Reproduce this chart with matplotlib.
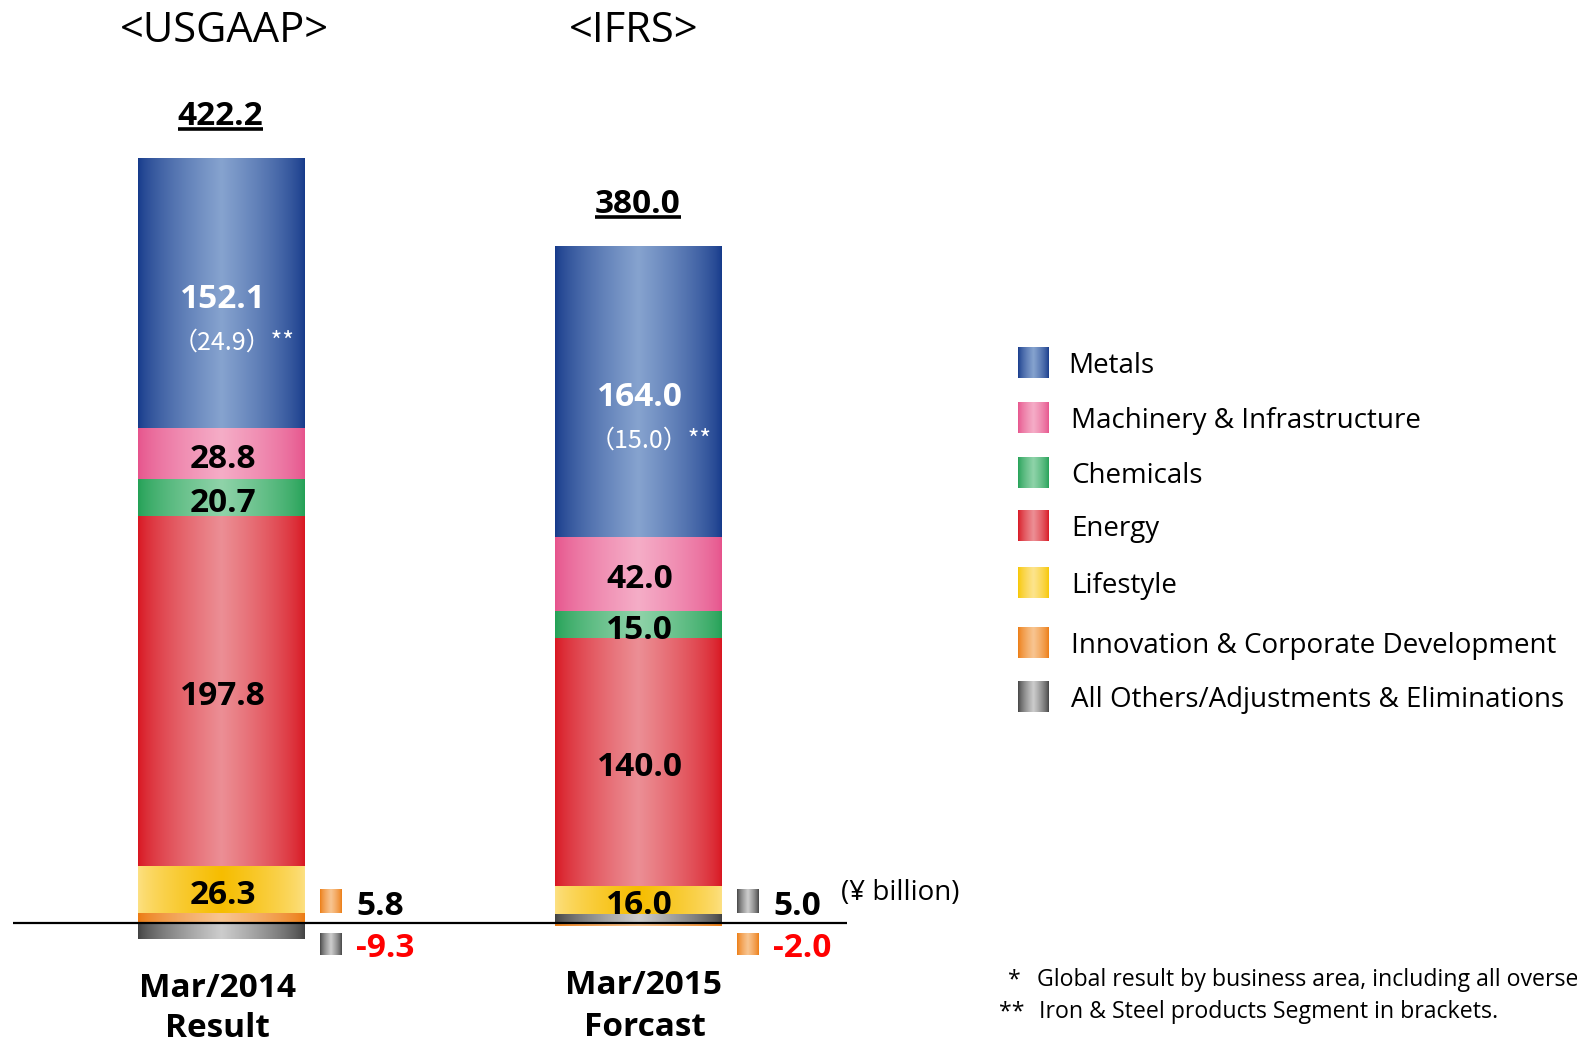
import numpy as np
import matplotlib
matplotlib.use('Agg')
import matplotlib.pyplot as plt
import matplotlib.colors as mcolors

plt.rcParams['font.family'] = ['Open Sans', 'DejaVu Sans']

# profit by segment (¥ billion)
segments = ['Metals', 'Machinery & Infrastructure', 'Chemicals', 'Energy', 'Lifestyle',
            'Innovation & Corporate Development', 'All Others/Adjustments & Eliminations']
values_2014 = [152.1, 28.8, 20.7, 197.8, 26.3, 5.8, -9.3]
values_2015 = [164.0, 42.0, 15.0, 140.0, 16.0, -2.0, 5.0]
steel_2014 = 24.9
steel_2015 = 15.0
periods = ['Mar/2014', 'Mar/2015']
period_notes = ['Result', 'Forcast']
standards = ['<USGAAP>', '<IFRS>']
unit_label = '(¥ billion)'
# first note is cut at the right edge in the source slide
footnotes = ['Global result by business area, including all overse',
             'Iron & Steel products Segment in brackets.']

# stacking bottom-up, inside-bar labels, small side labels
stack_order = [5, 6, 4, 3, 2, 1, 0]
inside = [0, 1, 2, 3, 4]
side = [5, 6]

# gradient colours (edge, middle)
edge_cols = ['#15398a', '#e6528b', '#22a055', '#d81520', '#fde185', '#ec7a10', '#404040']
mid_cols = ['#86a3cf', '#f5adc7', '#8fd3a9', '#ec8f95', '#f6bd00', '#f8c591', '#cdcdcd']
legend_edge = list(edge_cols)
legend_mid = list(mid_cols)
legend_edge[4], legend_mid[4] = '#f7c600', '#fde48e'


def gradient(edge, mid, n=256):
    x = np.linspace(0, 1, n)
    t = (1 - np.abs(2 * x - 1)) ** 0.7
    e = np.array(mcolors.to_rgb(edge))
    m = np.array(mcolors.to_rgb(mid))
    return (e[None, :] * (1 - t[:, None]) + m[None, :] * t[:, None])[None, :, :]


def grad_box(a, x0, x1, y0, y1, edge, mid, z=2):
    a.imshow(gradient(edge, mid), extent=[x0, x1, min(y0, y1), max(y0, y1)],
             aspect='auto', interpolation='bilinear', zorder=z)


W, H = 1577, 1043
fig = plt.figure(figsize=(W / 100, H / 100), dpi=100)
ax = fig.add_axes([13 / W, 0, 834 / W, 1])
lax = fig.add_axes([0, 0, 1, 1])

bw = 0.4
totals = []
for i, vals in enumerate([values_2014, values_2015]):
    pos, neg = 0.0, 0.0
    bottoms = {}
    for k in stack_order:
        v = vals[k]
        if v >= 0:
            b = pos
            pos += v
        else:
            b = neg
            neg += v
        bottoms[k] = b
        bar = ax.bar(i, v, width=bw, bottom=b, color='none', linewidth=0)[0]
        grad_box(ax, bar.get_x(), bar.get_x() + bar.get_width(),
                 bar.get_y(), bar.get_y() + bar.get_height(), edge_cols[k], mid_cols[k])
    totals.append((pos, sum(vals)))

    for k in inside:
        yc = bottoms[k] + vals[k] / 2
        ax.text(i + 0.003, yc - 3.2, f'{vals[k]:.1f}', ha='center', va='center', fontsize=24,
                fontweight='bold', color='white' if k == 0 else 'black', zorder=5)
    steel = [steel_2014, steel_2015][i]
    yc = bottoms[0] + vals[0] / 2
    ax.text(i + 0.03, yc - 27.5, f'（{steel:.1f}）**', ha='center', va='center', fontsize=18,
            color='white', family=['Noto Sans CJK JP', 'Open Sans'], zorder=5)

    for k in side:
        v = vals[k]
        if v >= 0:
            sy0, sy1, ty, tc = 5.5, 18.5, 4.3, 'black'
        else:
            sy0, sy1, ty, tc = -18.0, -5.8, -19.5, '#ff0000'
        grad_box(ax, i + 0.236, i + 0.288, sy0, sy1, edge_cols[k], mid_cols[k])
        ax.text(i + 0.323, ty, f'{v:.1f}', ha='left', va='baseline', fontsize=24,
                fontweight='bold', color=tc)

ax.axhline(0, color='black', lw=1.6, zorder=4)

# totals with underline
tot_texts = []
for i, (top, tot) in enumerate(totals):
    t = ax.text(i - 0.002, top + 19, f'{tot:.1f}', ha='center', va='baseline',
                fontsize=24, fontweight='bold')
    tot_texts.append((t, top + 19))

# headers and period labels
ax.text(0.008, 497.5, standards[0], ha='center', va='baseline', fontsize=30)
ax.text(0.988, 497.5, standards[1], ha='center', va='baseline', fontsize=30)
ax.text(-0.01, -41.8, periods[0], ha='center', va='baseline', fontsize=24, fontweight='bold')
ax.text(-0.01, -64.5, period_notes[0], ha='center', va='baseline', fontsize=24, fontweight='bold')
ax.text(1.011, -40.0, periods[1], ha='center', va='baseline', fontsize=24, fontweight='bold')
ax.text(1.016, -63.8, period_notes[1], ha='center', va='baseline', fontsize=24, fontweight='bold')
ax.text(1.486, 13.0, unit_label, ha='left', va='baseline', fontsize=20)

ax.set_xlim(-0.5, 1.5)
ax.set_ylim(-67.8, 521.2)
ax.axis('off')

# legend
row_y = [363, 418, 473, 526, 583, 643, 697]
for k, name in enumerate(segments):
    grad_box(lax, 1018, 1049, row_y[k] - 15.5, row_y[k] + 15.5, legend_edge[k], legend_mid[k])
    lax.text(1068 if k == 0 else 1071, row_y[k] + 10, name, ha='left', va='baseline', fontsize=20)

# footnotes
lax.text(1014, 986, '*', ha='center', va='baseline', fontsize=16.7)
lax.text(1037, 986, footnotes[0], ha='left', va='baseline', fontsize=16.7)
lax.text(1012, 1018, '**', ha='center', va='baseline', fontsize=16.7)
lax.text(1039, 1018, footnotes[1], ha='left', va='baseline', fontsize=16.7)
lax.set_xlim(0, W)
lax.set_ylim(H, 0)
lax.axis('off')

fig.canvas.draw()
r = fig.canvas.get_renderer()
inv = ax.transData.inverted()
for t, yb in tot_texts:
    bb = t.get_window_extent(r)
    x0 = inv.transform((bb.x0, 0))[0]
    x1 = inv.transform((bb.x1, 0))[0]
    ax.plot([x0, x1], [yb - 2.2, yb - 2.2], color='black', lw=2.6, solid_capstyle='butt')

fig.savefig('out.png', dpi=100)
